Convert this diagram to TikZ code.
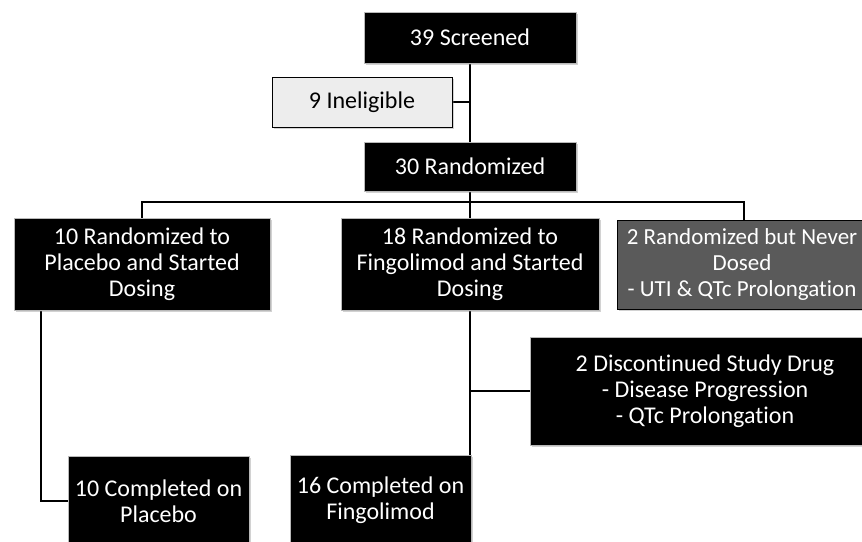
\documentclass[tikz,border=0pt]{standalone}
\usepackage{fontspec}
\setmainfont{Carlito}[Ligatures=CommonOff]
\usetikzlibrary{shadows,backgrounds}
\definecolor{ltgrey}{HTML}{EDEDED}
\definecolor{dkgrey}{HTML}{5A5A5A}
\tikzset{
  box/.style={rectangle, inner sep=0pt, align=center, font=\fontsize{24}{26}\selectfont},
  blackbox/.style={box, fill=black, text=white, draw=gray!55, line width=1pt,
    drop shadow={shadow xshift=2pt, shadow yshift=-2pt, opacity=0.35}},
  lightbox/.style={box, fill=ltgrey, text=black, draw=black, line width=1pt,
    drop shadow={shadow xshift=2pt, shadow yshift=-2pt, opacity=0.35}},
  darkbox/.style={box, fill=dkgrey, text=white, draw=black, line width=1pt,
    drop shadow={shadow xshift=2pt, shadow yshift=-2pt, opacity=0.35}},
  conn/.style={draw=black, line width=1.2pt}
}
\begin{document}
\begin{tikzpicture}[x=1pt, y=-1pt]
\useasboundingbox (0,0) rectangle (862,541);
\clip (0,0) rectangle (862,541);
% coordinates for connectors
\coordinate (split) at (470,202);
\coordinate (pd) at (41,310);
% nodes
\node[blackbox, minimum width=212pt, minimum height=51pt] (scr) at (470,37.5) {39 Screened};
\node[lightbox, minimum width=180pt, minimum height=50pt] (ine) at (362,102) {9 Ineligible};
\node[blackbox, minimum width=212pt, minimum height=49pt] (rand) at (470,166.5) {30 Randomized};
\node[blackbox, minimum width=256pt, minimum height=92pt] (plac) at (142,264) {10 Randomized to\\Placebo and Started\\Dosing};
\node[blackbox, minimum width=258pt, minimum height=92pt] (fing) at (470,264) {18 Randomized to\\Fingolimod and Started\\Dosing};
\node[darkbox, minimum width=250pt, minimum height=89pt, font=\fontsize{23}{26}\selectfont] (never) at (742,264.5) {2 Randomized but Never\\Dosed\\- UTI \& QTc Prolongation};
\node[blackbox, minimum width=350pt, minimum height=108pt] (disc) at (705,391) {2 Discontinued Study Drug\\- Disease Progression\\- QTc Prolongation};
\node[blackbox, minimum width=181pt, minimum height=90pt] (comp1) at (158.5,501) {10 Completed on\\Placebo};
\node[blackbox, minimum width=181pt, minimum height=90pt] (comp2) at (380.5,500) {16 Completed on\\Fingolimod};
% connectors (behind boxes)
\begin{scope}[on background layer]
\fill[white] (0,0) rectangle (862,541);
\path[conn] (scr.south) -- (rand.north);
\path[conn] (ine.east) -- (ine.east -| scr.south);
\path[conn] (rand.south) -- (split);
\path[conn] (plac.north) |- (split) -| (never.north -| 744,0);
\path[conn] (split) -- (fing.north);
\path[conn] (pd) |- (comp1.west);
\path[conn] (fing.south) -- (fing.south |- comp2.east) -- (comp2.east);
\path[conn] (disc.west) -- (disc.west -| split);
\end{scope}
\end{tikzpicture}
\end{document}
